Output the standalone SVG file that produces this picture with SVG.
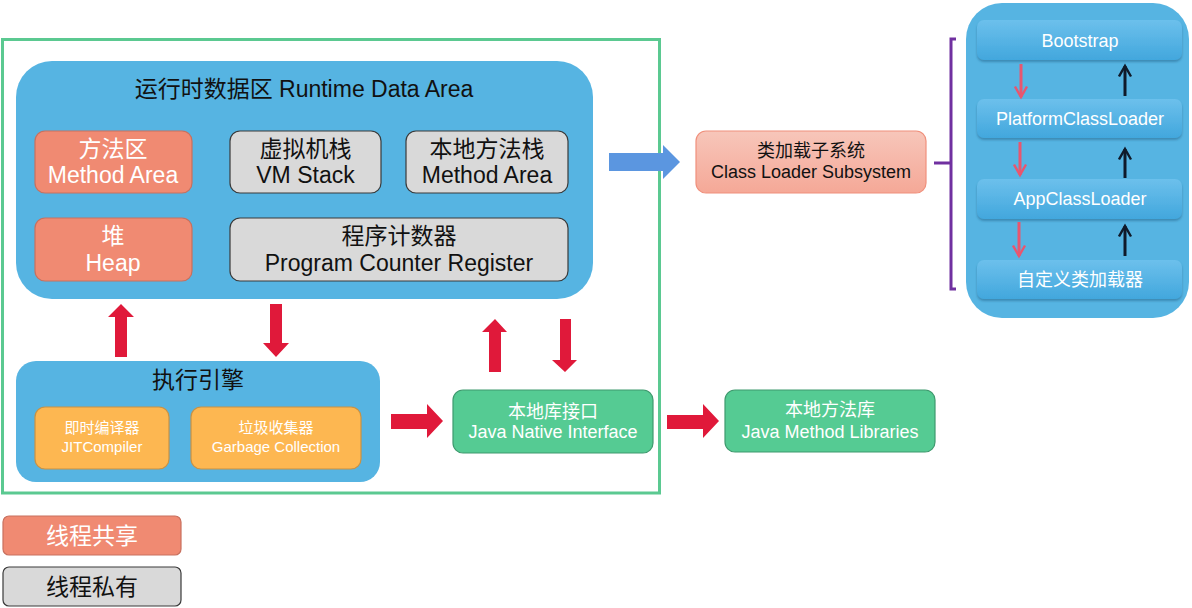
<svg xmlns="http://www.w3.org/2000/svg" width="1192" height="608" viewBox="0 0 1192 608">
<defs>
<style>
.t{font-family:"Liberation Sans","Noto Sans CJK SC",sans-serif;text-anchor:middle}
.blue{fill:#56b4e2}
.sal{fill:#f08a72;stroke:#c8705e;stroke-width:1.2}
.gray{fill:#d9d9d9;stroke:#3a3a3a;stroke-width:1.2}
.org{fill:#fdb751;stroke:#c99244;stroke-width:1.2}
.grn{fill:#55cb93;stroke:#3e9a6e;stroke-width:1.2}
.red{fill:#e0193a}
.w{fill:#ffffff}
.k{fill:#111111}
.cl{fill:url(#clg);filter:url(#sh)}
.pk{stroke:#e8566f;stroke-width:3;fill:none}
.bk{stroke:#0f1a2a;stroke-width:3;fill:none}
</style>
<linearGradient id="clg" x1="0" y1="0" x2="0" y2="1">
<stop offset="0" stop-color="#6cc0ec"/>
<stop offset="1" stop-color="#42a7dd"/>
</linearGradient>
<linearGradient id="slg" x1="0" y1="0" x2="0" y2="1">
<stop offset="0" stop-color="#f7c6ba"/>
<stop offset="1" stop-color="#f5a897"/>
</linearGradient>
<filter id="sh" x="-10%" y="-20%" width="120%" height="160%">
<feDropShadow dx="0" dy="2" stdDeviation="1.2" flood-color="#1d5f86" flood-opacity="0.5"/>
</filter>
<marker id="mp" viewBox="0 0 10 10" refX="8" refY="5" markerWidth="5" markerHeight="5" orient="auto" markerUnits="strokeWidth">
<path d="M1 1 L8 5 L1 9" fill="none" stroke="#e8566f" stroke-width="1.6"/>
</marker>
<marker id="mk" viewBox="0 0 10 10" refX="8" refY="5" markerWidth="5" markerHeight="5" orient="auto" markerUnits="strokeWidth">
<path d="M1 1 L8 5 L1 9" fill="none" stroke="#0f1a2a" stroke-width="1.6"/>
</marker>
</defs>
<rect width="1192" height="608" fill="#ffffff"/>

<rect id="frame" x="2.5" y="39.5" width="657" height="453.5" fill="none" stroke="#5bc991" stroke-width="3"/>

<g id="runtime">
<rect x="16" y="61" width="577" height="238" rx="36" class="blue"/>
<text class="t k" x="304" y="97" font-size="23">运行时数据区 Runtime Data Area</text>
</g>
<g id="methodArea">
<rect x="35" y="131" width="157" height="62" rx="10" class="sal"/>
<text class="t w" x="113" y="157" font-size="23">方法区</text>
<text class="t w" x="113" y="183" font-size="23">Method Area</text>
</g>
<g id="vmStack">
<rect x="230" y="131" width="151" height="62" rx="10" class="gray"/>
<text class="t k" x="305.5" y="157" font-size="23">虚拟机栈</text>
<text class="t k" x="305.5" y="183" font-size="23">VM Stack</text>
</g>
<g id="nativeStack">
<rect x="406" y="131" width="162" height="62" rx="10" class="gray"/>
<text class="t k" x="487" y="157" font-size="23">本地方法栈</text>
<text class="t k" x="487" y="183" font-size="23">Method Area</text>
</g>
<g id="heap">
<rect x="35" y="218" width="157" height="63" rx="10" class="sal"/>
<text class="t w" x="113" y="244" font-size="23">堆</text>
<text class="t w" x="113" y="271" font-size="23">Heap</text>
</g>
<g id="pcRegister">
<rect x="230" y="218" width="338" height="63" rx="10" class="gray"/>
<text class="t k" x="399" y="244" font-size="23">程序计数器</text>
<text class="t k" x="399" y="271" font-size="23">Program Counter Register</text>
</g>

<g id="engine">
<rect x="16" y="361" width="364" height="121" rx="20" class="blue"/>
<text class="t k" x="198" y="388" font-size="23">执行引擎</text>
</g>
<g id="jit">
<rect x="35" y="407" width="134" height="62" rx="10" class="org"/>
<text class="t w" x="102" y="433" font-size="15">即时编译器</text>
<text class="t w" x="102" y="452" font-size="15">JITCompiler</text>
</g>
<g id="gc">
<rect x="191" y="407" width="170" height="62" rx="10" class="org"/>
<text class="t w" x="276" y="433" font-size="15">垃圾收集器</text>
<text class="t w" x="276" y="452" font-size="15">Garbage Collection</text>
</g>

<g id="jni">
<rect x="453" y="390" width="200" height="63" rx="10" class="grn"/>
<text class="t w" x="553" y="418" font-size="18">本地库接口</text>
<text class="t w" x="553" y="438" font-size="18">Java Native Interface</text>
</g>
<g id="libs">
<rect x="725" y="390" width="210" height="62" rx="10" class="grn"/>
<text class="t w" x="830" y="416" font-size="18">本地方法库</text>
<text class="t w" x="830" y="438" font-size="18">Java Method Libraries</text>
</g>

<g id="classLoader">
<rect x="696" y="131" width="230" height="62" rx="10" fill="url(#slg)" stroke="#f0907c" stroke-width="1.2"/>
<text class="t k" x="811" y="157" font-size="18">类加载子系统</text>
<text class="t k" x="811" y="178" font-size="18">Class Loader Subsystem</text>
</g>

<g id="loaderPanel">
<rect x="966" y="3" width="223" height="315" rx="36" class="blue"/>
</g>
<g id="bootstrap">
<rect x="977" y="20" width="205" height="40" rx="7" class="cl"/>
<text class="t w" x="1080" y="47" font-size="18">Bootstrap</text>
</g>
<g id="platform">
<rect x="977" y="99" width="205" height="39" rx="7" class="cl"/>
<text class="t w" x="1080" y="125" font-size="18">PlatformClassLoader</text>
</g>
<g id="app">
<rect x="977" y="179" width="205" height="40" rx="7" class="cl"/>
<text class="t w" x="1080" y="205" font-size="18">AppClassLoader</text>
</g>
<g id="custom">
<rect x="977" y="260" width="205" height="39" rx="7" class="cl"/>
<text class="t w" x="1080" y="286" font-size="18">自定义类加载器</text>
</g>

<g id="legendShared">
<rect x="3" y="516" width="178" height="39" rx="6" class="sal"/>
<text class="t w" x="92" y="544" font-size="23">线程共享</text>
</g>
<g id="legendPrivate">
<rect x="3" y="567" width="178" height="39" rx="6" class="gray"/>
<text class="t k" x="92" y="595" font-size="23">线程私有</text>
</g>

<g id="connectors">
<polygon class="red" points="121,304 134,317 127,317 127,357 115,357 115,317 108,317"/>
<polygon class="red" points="270,304 282,304 282,343 289,343 276,357 263,343 270,343"/>
<polygon class="red" points="495,319 507,332 501,332 501,372 489,372 489,332 482,332"/>
<polygon class="red" points="560,319 571,319 571,360 577,360 565,372 552,360 560,360"/>
<polygon class="red" points="391,414 427,414 427,404 443,421 427,438 427,429 391,429"/>
<polygon class="red" points="667,415 703,415 703,404 719,421 703,438 703,429 667,429"/>
<polygon fill="#5b96e0" points="609,153 663,153 663,145 680,162 663,179 663,171 609,171"/>
<path d="M956 39 H951 V289 H956 M934 163 H951" fill="none" stroke="#7030a0" stroke-width="3"/>
<path class="pk" d="M1021 64 V97" marker-end="url(#mp)"/>
<path class="pk" d="M1020 142 V175" marker-end="url(#mp)"/>
<path class="pk" d="M1019 222 V256" marker-end="url(#mp)"/>
<path class="bk" d="M1125 96 V66" marker-end="url(#mk)"/>
<path class="bk" d="M1125 178 V149" marker-end="url(#mk)"/>
<path class="bk" d="M1125 256 V226" marker-end="url(#mk)"/>
</g>
</svg>
